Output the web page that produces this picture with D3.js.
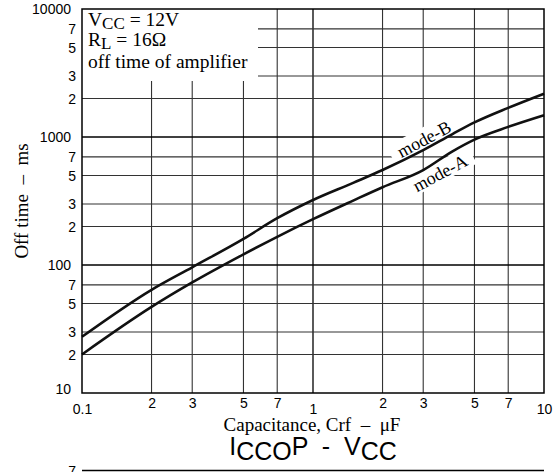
<!DOCTYPE html>
<html>
<head>
<meta charset="utf-8">
<script src="https://cdn.jsdelivr.net/npm/d3@7"></script>
<style>
  html, body { margin: 0; padding: 0; background: #fff; }
  svg { display: block; }
  text { white-space: pre; }
</style>
</head>
<body>
<div id="chart"></div>
<script>
// Capacitance values (µF) at which the curves are sampled
const capacitance = [0.1, 0.2, 0.3, 0.5, 0.7, 1, 1.5, 2, 3, 4, 5, 7, 10];
// Off time (ms) for each mode
const offTimeModeB = [27.5, 64, 96, 160, 232, 322, 440, 552, 790, 1050, 1300, 1690, 2180];
const offTimeModeA = [20, 47, 73, 121, 166, 228, 320, 405, 552, 770, 955, 1200, 1480];

// Axis ticks and their printed labels
const xTickValues = [0.1, 0.2, 0.3, 0.5, 0.7, 1, 2, 3, 5, 7, 10];
const xTickLabels = ["0.1", "2", "3", "5", "7", "1", "2", "3", "5", "7", "10"];
const yTickValues = [10, 20, 30, 50, 70, 100, 200, 300, 500, 700, 1000, 2000, 3000, 5000, 7000, 10000];
const yTickLabels = ["10", "2", "3", "5", "7", "100", "2", "3", "5", "7", "1000", "2", "3", "5", "7", "10000"];

const W = 559, H = 472;
const plotL = 82, plotR = 544, plotT = 9, plotB = 393;

const svg = d3.select("#chart").append("svg")
  .attr("width", W).attr("height", H);

const x = d3.scaleLog().domain([0.1, 10]).range([plotL, plotR]);
const y = d3.scaleLog().domain([10, 10000]).range([plotB, plotT]);

const isDecade = v => Math.abs(Math.log10(v) - Math.round(Math.log10(v))) < 1e-9;

// Grid
const grid = svg.append("g");
grid.selectAll("line.v").data(xTickValues.filter(v => v > 0.1 && v < 10)).join("line")
  .attr("x1", d => x(d)).attr("x2", d => x(d))
  .attr("y1", plotT).attr("y2", plotB)
  .attr("stroke", d => isDecade(d) ? "#000" : "#333")
  .attr("stroke-width", d => isDecade(d) ? 1.3 : 1.1);
grid.selectAll("line.h").data(yTickValues.filter(v => v > 10 && v < 10000)).join("line")
  .attr("y1", d => y(d)).attr("y2", d => y(d))
  .attr("x1", plotL).attr("x2", plotR)
  .attr("stroke", d => isDecade(d) ? "#000" : "#333")
  .attr("stroke-width", d => isDecade(d) ? 1.3 : 1.1);

// Conditions box (covers the grid in the upper-left corner)
svg.append("rect")
  .attr("x", plotL).attr("y", plotT)
  .attr("width", 258 - plotL).attr("height", 81 - plotT)
  .attr("fill", "#fff");

const serif = "'Liberation Serif', 'Times New Roman', serif";
const sans = "'Liberation Sans', Arial, sans-serif";

const cond = svg.append("g").attr("font-family", serif).attr("font-size", 19.5).attr("fill", "#000");
const t1 = cond.append("text").attr("x", 88).attr("y", 26);
t1.append("tspan").text("V");
t1.append("tspan").attr("dy", 3).attr("font-size", 17).text("CC");
t1.append("tspan").attr("dy", -3).text(" = 12V");
const t2 = cond.append("text").attr("x", 88).attr("y", 46);
t2.append("tspan").text("R");
t2.append("tspan").attr("dy", 3).attr("font-size", 17).text("L");
t2.append("tspan").attr("dy", -3).text(" = 16\u03A9");
cond.append("text").attr("x", 88).attr("y", 68).text("off time of amplifier");

// Curve label backgrounds (break the grid around the labels)
const labels = [
  { text: "mode-B", cx: 424, cy: 139, angle: -28 },
  { text: "mode-A", cx: 440, cy: 173, angle: -28 }
];
labels.forEach(l => {
  svg.append("rect")
    .attr("x", -37).attr("y", -11).attr("width", 74).attr("height", 20)
    .attr("fill", "#fff")
    .attr("transform", `translate(${l.cx},${l.cy}) rotate(${l.angle})`);
});

// Curves
const line = d3.line()
  .x((d, i) => x(capacitance[i]))
  .y(d => y(d))
  .curve(d3.curveMonotoneX);

[offTimeModeB, offTimeModeA].forEach(series => {
  svg.append("path")
    .datum(series)
    .attr("d", line)
    .attr("fill", "none")
    .attr("stroke", "#111")
    .attr("stroke-width", 2.6)
    .attr("stroke-linejoin", "round");
});

labels.forEach(l => {
  svg.append("text")
    .attr("transform", `translate(${l.cx},${l.cy}) rotate(${l.angle})`)
    .attr("text-anchor", "middle")
    .attr("dy", "0.35em")
    .attr("font-family", serif)
    .attr("font-size", 18)
    .text(l.text);
});

// Plot frame
svg.append("rect")
  .attr("x", plotL).attr("y", plotT)
  .attr("width", plotR - plotL).attr("height", plotB - plotT)
  .attr("fill", "none").attr("stroke", "#000").attr("stroke-width", 1.5);

// Axes (labels only)
const xAxis = svg.append("g")
  .attr("transform", `translate(0,${plotB})`)
  .call(d3.axisBottom(x).tickValues(xTickValues)
    .tickFormat((d, i) => xTickLabels[i]).tickSize(0).tickPadding(0));
xAxis.select(".domain").remove();
xAxis.selectAll("text")
  .attr("font-family", sans).attr("font-size", 14).attr("fill", "#000")
  .attr("dy", null)
  .attr("y", d => isDecade(d) ? 21 : 15);

const yAxis = svg.append("g")
  .attr("transform", `translate(${plotL},0)`)
  .call(d3.axisLeft(y).tickValues(yTickValues)
    .tickFormat((d, i) => yTickLabels[i]).tickSize(0).tickPadding(0));
yAxis.select(".domain").remove();
yAxis.selectAll("text")
  .attr("font-family", sans).attr("font-size", 14).attr("fill", "#000")
  .attr("x", d => isDecade(d) ? -11 : -6)
  .attr("dy", "0.35em");
yAxis.selectAll(".tick").filter(d => d === 10).select("text").attr("dy", "0.0em");

// Axis titles
svg.append("text")
  .attr("x", 312).attr("y", 431)
  .attr("text-anchor", "middle")
  .attr("font-family", serif).attr("font-size", 19)
  .text("Capacitance, Crf  \u2013  \u03BCF");

svg.append("text")
  .attr("transform", "translate(28,201) rotate(-90)")
  .attr("text-anchor", "middle")
  .attr("font-family", serif).attr("font-size", 19)
  .text("Off time  \u2013  ms");

// Heading of the following chart
const next = svg.append("text")
  .attr("x", 313).attr("y", 455)
  .attr("text-anchor", "middle")
  .attr("font-family", sans).attr("font-size", 25);
next.append("tspan").text("I");
next.append("tspan").attr("dy", 5).text("CCO");
next.append("tspan").attr("dy", -5).text("P  -  V");
next.append("tspan").attr("dy", 5).text("CC");

svg.append("line")
  .attr("x1", plotL).attr("x2", plotR)
  .attr("y1", 470.5).attr("y2", 470.5)
  .attr("stroke", "#000").attr("stroke-width", 1.3);
svg.append("text")
  .attr("x", 76).attr("y", 476)
  .attr("text-anchor", "end")
  .attr("font-family", sans).attr("font-size", 14)
  .text("7");
</script>
</body>
</html>
